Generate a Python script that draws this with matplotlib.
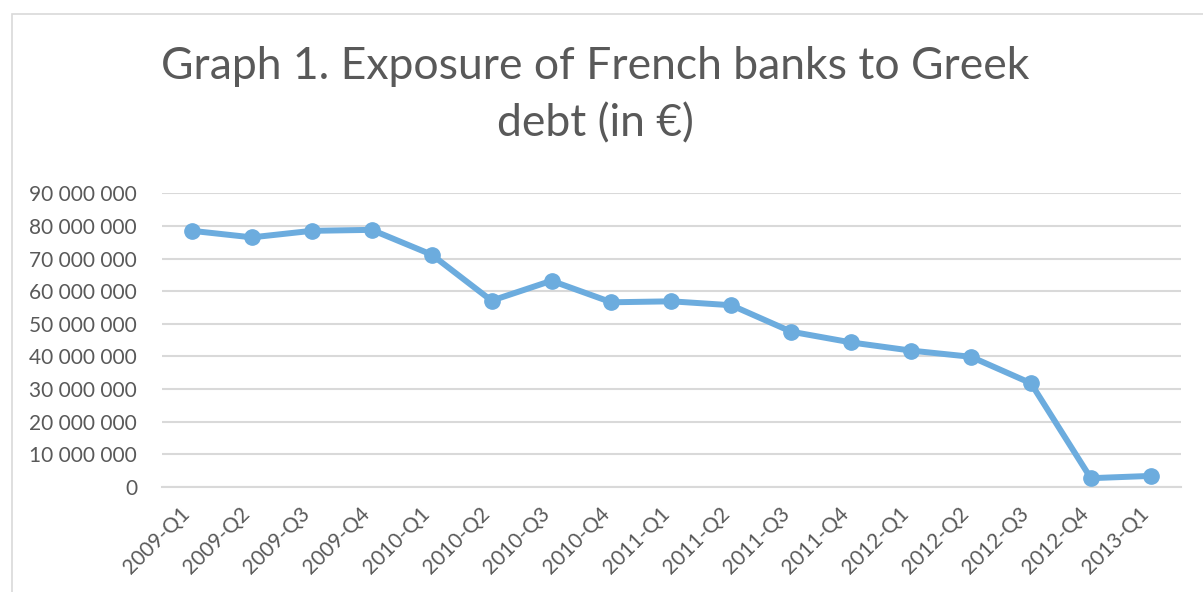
import numpy as np
import matplotlib.pyplot as plt
from matplotlib.patches import Rectangle
from matplotlib.ticker import FuncFormatter
from matplotlib.transforms import ScaledTranslation

plt.rcParams['font.family'] = ['Lato', 'DejaVu Sans']

quarters = ['2009-Q1', '2009-Q2', '2009-Q3', '2009-Q4',
            '2010-Q1', '2010-Q2', '2010-Q3', '2010-Q4',
            '2011-Q1', '2011-Q2', '2011-Q3', '2011-Q4',
            '2012-Q1', '2012-Q2', '2012-Q3', '2012-Q4',
            '2013-Q1']
exposure = [78.5e6, 76.5e6, 78.5e6, 78.8e6,
            71.2e6, 57.1e6, 63.2e6, 56.6e6,
            56.9e6, 55.7e6, 47.6e6, 44.3e6,
            41.8e6, 39.9e6, 31.8e6, 2.7e6,
            3.4e6]
yticks = np.arange(0, 90e6 + 1, 10e6)

grey = '#595959'
blue = '#6CACDE'

fig = plt.figure(figsize=(12.03, 5.92), dpi=100)
ax = fig.add_axes([162 / 1203, 1 - 487 / 592, (1180.7 - 162) / 1203, (487 - 193.3) / 592])

x = np.arange(len(quarters))
ax.plot(x, exposure, color=blue, lw=4.3, marker='o', markersize=11, zorder=3,
        solid_joinstyle='round', clip_on=False)

ax.set_xlim(-0.5, len(quarters) - 0.5)
ax.set_ylim(0, 90e6)
ax.set_yticks(yticks)
ax.yaxis.set_major_formatter(FuncFormatter(lambda v, p: '{:,.0f}'.format(v).replace(',', ' ')))
ax.set_xticks(x)
ax.set_xticklabels(quarters, rotation=45, ha='right', rotation_mode='anchor')

ax.grid(axis='y', color='#D9D9D9', lw=1.5)
ax.set_axisbelow(True)
for s in ['top', 'right', 'left']:
    ax.spines[s].set_visible(False)
ax.spines['bottom'].set_color('#D9D9D9')
ax.spines['bottom'].set_linewidth(1.5)
ax.tick_params(axis='both', length=0, colors=grey, labelsize=15)
ax.tick_params(axis='y', pad=18)
ax.tick_params(axis='x', pad=12)

# nudge the slanted labels left so they end just before the category
shift = ScaledTranslation(-12 / 100, 0, fig.dpi_scale_trans)
for lab in ax.get_xticklabels():
    lab.set_transform(lab.get_transform() + shift)

fig.text(595 / 1203, 1 - 46 / 592, 'Graph 1. Exposure of French banks to Greek\ndebt (in €)',
         ha='center', va='top', fontsize=32, color=grey, linespacing=1.5)

fig.patches.append(Rectangle((12 / 1203, -0.1), 1.2, 1 - 14 / 592 + 0.1,
                             transform=fig.transFigure, fill=False,
                             edgecolor='#D9D9D9', lw=1.2))

fig.savefig('out.png', dpi=100)
